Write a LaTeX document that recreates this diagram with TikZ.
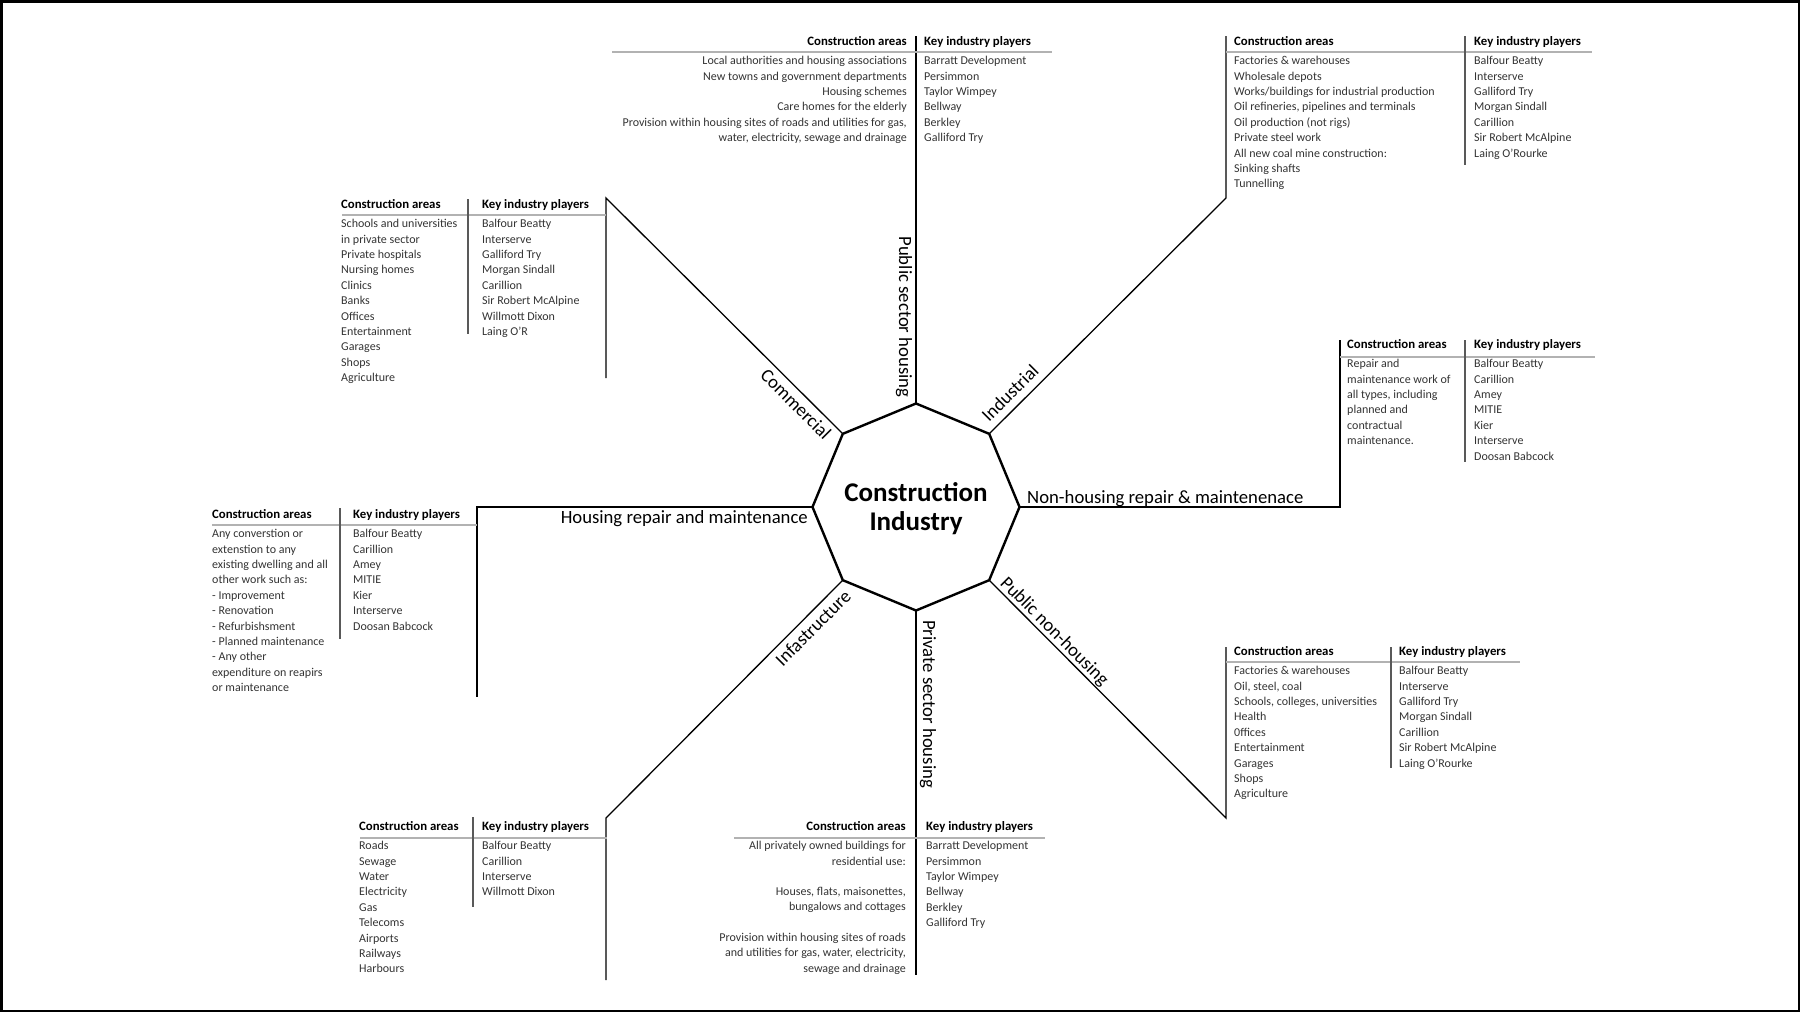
\documentclass[tikz,border=0pt]{standalone}
\usepackage{fontspec}
\setmainfont{Carlito}
\usepackage{tikz}
\usetikzlibrary{shapes.geometric}

\begin{document}
\begin{tikzpicture}[x=1pt,y=-1pt]
\tikzset{hub/.style = {shape=regular polygon,regular polygon sides=8,shape border rotate=22.5,draw,line width=2.4pt,minimum size=207pt,inner sep=0pt,outer sep=0pt}}
\tikzset{title/.style = {align=center,inner sep=0pt,font=\bfseries\fontsize{27}{29}\selectfont}}
\tikzset{branch/.style = {line width=1.3pt}}
\tikzset{rule/.style = {line width=1.3pt,black!30}}
\tikzset{colsep/.style = {line width=1.6pt,black!65}}
\tikzset{hdr/.style = {inner sep=0pt,font=\bfseries\fontsize{12.8}{15}\selectfont}}
\tikzset{cell/.style = {inner sep=0pt,align=left,text=black!80,font=\fontsize{12}{15.4}\selectfont,execute at begin node=\strut,anchor=north west,yshift=10.78pt}}
\tikzset{rcell/.style = {cell,align=right,anchor=north east}}
\tikzset{lbl/.style = {inner sep=0pt,font=\fontsize{18.7}{20}\selectfont}}
\useasboundingbox (0,0) rectangle (1800,1012);
\draw[line width=2.5pt] (1.25,1.25) rectangle (1798.75,1010.75);
\node[hub](ind) at (916,507) {};
\node[title](indtitle) at (916,509) {Construction\\Industry};
% branches
\coordinate (pubend) at (916,36);
\coordinate (indknee) at (1226,198);
\coordinate (indend) at (1226,36);
\coordinate (nhknee) at (1340,507);
\coordinate (nhend) at (1340,340);
\coordinate (pnhknee) at (1226,818);
\coordinate (pnhend) at (1226,647);
\coordinate (privend) at (916,975);
\coordinate (infknee) at (606,818);
\coordinate (infend) at (606,980);
\coordinate (hrknee) at (477,507);
\coordinate (hrend) at (477,697);
\coordinate (comknee) at (606,198);
\coordinate (comend) at (606,378);
\draw[branch] (ind.90) -- (pubend);
\draw[branch] (ind.45) -- (indknee) -- (indend);
\draw[branch] (ind.0) -- (nhknee) -- (nhend);
\draw[branch] (ind.-45) -- (pnhknee) -- (pnhend);
\draw[branch] (ind.-90) -- (privend);
\draw[branch] (ind.-135) -- (infknee) -- (infend);
\draw[branch] (ind.180) -- (hrknee) -- (hrend);
\draw[branch] (ind.135) -- (comknee) -- (comend);
% labels
\node[lbl,rotate=-90](publbl) at (904,317) {Public sector housing};
\node[lbl,rotate=45](indlbl) at (1010,393) {Industrial};
\node[lbl,anchor=base west](nhlbl) at (1027,503) {Non-housing repair \& maintenenace};
\node[lbl,rotate=-45](pnhlbl) at (1054,632) {Public non-housing};
\node[lbl,rotate=-90](privlbl) at (928,704) {Private sector housing};
\node[lbl,rotate=45](inflbl) at (813,628) {Infastructure};
\node[lbl,anchor=base east](hrlbl) at (808,523) {Housing repair and maintenance};
\node[lbl,rotate=-45](comlbl) at (796,404) {Commercial};
% public sector housing
\draw[rule] (612,52) -- (1052,52);
\node[hdr,anchor=base east](pubca) at (907,45) {Construction areas};
\node[hdr,anchor=base west](pubkp) at (924,45) {Key industry players};
\node[rcell](pubareas) at (907,67) {Local authorities and housing associations\\New towns and government departments\\Housing schemes\\Care homes for the elderly\\Provision within housing sites of roads and utilities for gas,\\water, electricity, sewage and drainage};
\node[cell](pubplayers) at (924,67) {Barratt Development\\Persimmon\\Taylor Wimpey\\Bellway\\Berkley\\Galliford Try};
% industrial
\draw[rule] (1226,52) -- (1592,52);
\draw[colsep] (1465,36) -- (1465,165);
\node[hdr,anchor=base west](indca) at (1234,45) {Construction areas};
\node[hdr,anchor=base west](indkp) at (1474,45) {Key industry players};
\node[cell](indareas) at (1234,67) {Factories \& warehouses\\Wholesale depots\\Works/buildings for industrial production\\Oil refineries, pipelines and terminals\\Oil production (not rigs)\\Private steel work\\All new coal mine construction:\\Sinking shafts\\Tunnelling};
\node[cell](indplayers) at (1474,67) {Balfour Beatty\\Interserve\\Galliford Try\\Morgan Sindall\\Carillion\\Sir Robert McAlpine\\Laing O'Rourke};
% non-housing repair
\draw[rule] (1340,357) -- (1595,357);
\draw[colsep] (1465,340) -- (1465,462);
\node[hdr,anchor=base west](nhca) at (1347,348) {Construction areas};
\node[hdr,anchor=base west](nhkp) at (1474,348) {Key industry players};
\node[cell](nhareas) at (1347,370) {Repair and\\maintenance work of\\all types, including\\planned and\\contractual\\maintenance.};
\node[cell](nhplayers) at (1474,370) {Balfour Beatty\\Carillion\\Amey\\MITIE\\Kier\\Interserve\\Doosan Babcock};
% public non-housing
\draw[rule] (1226,662) -- (1520,662);
\draw[colsep] (1391,647) -- (1391,768);
\node[hdr,anchor=base west](pnhca) at (1234,655) {Construction areas};
\node[hdr,anchor=base west](pnhkp) at (1399,655) {Key industry players};
\node[cell](pnhareas) at (1234,677) {Factories \& warehouses\\Oil, steel, coal\\Schools, colleges, universities\\Health\\0ffices\\Entertainment\\Garages\\Shops\\Agriculture};
\node[cell](pnhplayers) at (1399,677) {Balfour Beatty\\Interserve\\Galliford Try\\Morgan Sindall\\Carillion\\Sir Robert McAlpine\\Laing O'Rourke};
% private sector housing
\draw[rule] (734,838) -- (1045,838);
\node[hdr,anchor=base east](privca) at (906,830) {Construction areas};
\node[hdr,anchor=base west](privkp) at (926,830) {Key industry players};
\node[rcell](privareas) at (906,852) {All privately owned buildings for\\residential use:\\[15pt]Houses, flats, maisonettes,\\bungalows and cottages\\[15pt]Provision within housing sites of roads\\and utilities for gas, water, electricity,\\sewage and drainage};
\node[cell](privplayers) at (926,852) {Barratt Development\\Persimmon\\Taylor Wimpey\\Bellway\\Berkley\\Galliford Try};
% infrastructure
\draw[rule] (360,838) -- (607,838);
\draw[colsep] (473,817) -- (473,907);
\node[hdr,anchor=base west](infca) at (359,830) {Construction areas};
\node[hdr,anchor=base west](infkp) at (482,830) {Key industry players};
\node[cell](infareas) at (359,852) {Roads\\Sewage\\Water\\Electricity\\Gas\\Telecoms\\Airports\\Railways\\Harbours};
\node[cell](infplayers) at (482,852) {Balfour Beatty\\Carillion\\Interserve\\Willmott Dixon};
% housing repair
\draw[rule] (212,525) -- (477,525);
\draw[colsep] (340,508) -- (340,639);
\node[hdr,anchor=base west](hrca) at (212,518) {Construction areas};
\node[hdr,anchor=base west](hrkp) at (353,518) {Key industry players};
\node[cell](hrareas) at (212,540) {Any converstion or\\extenstion to any\\existing dwelling and all\\other work such as:\\- Improvement\\- Renovation\\- Refurbishsment\\- Planned maintenance\\- Any other\\expenditure on reapirs\\or maintenance};
\node[cell](hrplayers) at (353,540) {Balfour Beatty\\Carillion\\Amey\\MITIE\\Kier\\Interserve\\Doosan Babcock};
% commercial
\draw[rule] (342,215) -- (606,215);
\draw[colsep] (468,199) -- (468,334);
\node[hdr,anchor=base west](comca) at (341,208) {Construction areas};
\node[hdr,anchor=base west](comkp) at (482,208) {Key industry players};
\node[cell](comareas) at (341,230) {Schools and universities\\in private sector\\Private hospitals\\Nursing homes\\Clinics\\Banks\\Offices\\Entertainment\\Garages\\Shops\\Agriculture};
\node[cell](complayers) at (482,230) {Balfour Beatty\\Interserve\\Galliford Try\\Morgan Sindall\\Carillion\\Sir Robert McAlpine\\Willmott Dixon\\Laing O'R};
\end{tikzpicture}
\end{document}
